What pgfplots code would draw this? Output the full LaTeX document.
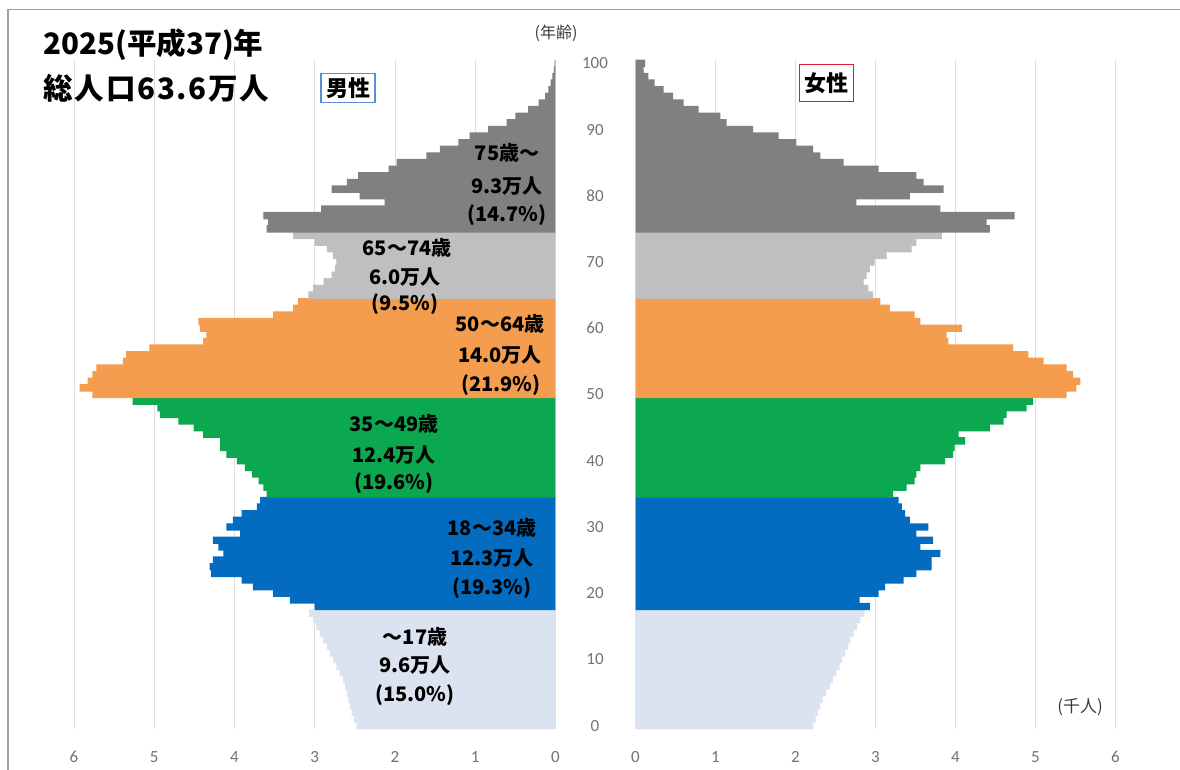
\documentclass[border=0pt]{standalone}
\usepackage{pgfplots}
\pgfplotsset{compat=1.18}
\usepackage{pgfplotstable}
\usepackage{fontspec}
\setmainfont{Noto Sans CJK JP}
\newfontfamily\tickfont{Carlito}

\definecolor{cOld}{RGB}{128,128,128}
\definecolor{cSen}{RGB}{191,191,191}
\definecolor{cOra}{RGB}{244,157,78}
\definecolor{cGre}{RGB}{12,168,80}
\definecolor{cBlu}{RGB}{4,108,192}
\definecolor{cKid}{RGB}{220,227,240}
\definecolor{cGrid}{RGB}{222,222,222}
\definecolor{cTick}{RGB}{115,115,115}
\definecolor{cFrame}{RGB}{160,160,160}

\pgfplotstableread{
age m f
0 2.48 2.22
1 2.51 2.25
2 2.54 2.28
3 2.56 2.31
4 2.58 2.34
5 2.60 2.38
6 2.62 2.43
7 2.65 2.47
8 2.69 2.51
9 2.73 2.55
10 2.77 2.58
11 2.81 2.62
12 2.85 2.66
13 2.90 2.69
14 2.94 2.73
15 2.98 2.77
16 3.02 2.81
17 3.07 2.86
18 3.00 2.93
19 3.31 2.80
20 3.52 3.04
21 3.77 3.12
22 3.91 3.35
23 4.29 3.51
24 4.31 3.70
25 4.27 3.70
26 4.14 3.81
27 4.20 3.56
28 4.27 3.72
29 3.93 3.51
30 4.10 3.66
31 4.02 3.43
32 3.91 3.37
33 3.72 3.33
34 3.68 3.29
35 3.60 3.22
36 3.64 3.39
37 3.70 3.49
38 3.78 3.51
39 3.87 3.56
40 3.97 3.87
41 4.10 3.97
42 4.18 3.99
43 4.18 4.12
44 4.39 4.04
45 4.51 4.43
46 4.70 4.60
47 4.93 4.64
48 4.96 4.89
49 5.27 4.97
50 5.77 5.39
51 5.93 5.51
52 5.83 5.56
53 5.77 5.47
54 5.72 5.39
55 5.39 5.10
56 5.35 4.91
57 5.06 4.72
58 4.39 3.91
59 4.35 3.89
60 4.43 4.08
61 4.45 3.56
62 3.52 3.49
63 3.27 3.18
64 3.21 3.06
65 3.08 2.97
66 3.02 2.91
67 2.89 2.85
68 2.79 2.89
69 2.75 2.93
70 2.73 2.99
71 2.77 3.14
72 2.85 3.45
73 3.00 3.51
74 3.27 3.83
75 3.60 4.43
76 3.58 4.39
77 3.64 4.74
78 2.92 3.81
79 2.13 2.76
80 2.44 3.43
81 2.79 3.85
82 2.60 3.60
83 2.46 3.51
84 2.08 3.04
85 1.98 2.60
86 1.61 2.31
87 1.44 2.22
88 1.21 2.01
89 1.07 1.79
90 0.84 1.47
91 0.61 1.14
92 0.50 1.06
93 0.34 0.79
94 0.21 0.60
95 0.13 0.47
96 0.09 0.35
97 0.06 0.24
98 0.04 0.16
99 0.02 0.10
100 0.01 0.12
}\pop

\pgfplotsset{
  pyr/.style={
    scale only axis, height=669pt,
    ymin=-0.5, ymax=100.5, xmin=0, xmax=6,
    xtick={0,1,2,3,4,5,6},
    xmajorgrids, major grid style={cGrid, line width=0.8pt},
    axis line style={draw=none}, major tick length=0pt,
    /pgf/number format/assume math mode=true,
    xticklabel style={font=\tickfont\fontsize{17}{17}\selectfont, text=cTick, anchor=center, yshift=-28pt},
  },
  grp/.style n args={2}{xbar, bar width=1.12, bar shift=0pt, fill=#1, draw=none,
     restrict y to domain=#2},
}
\newcommand{\anno}{\fontsize{20}{23}\selectfont\bfseries}

\begin{document}
\begin{tikzpicture}[x=1pt,y=1pt]
\path[use as bounding box] (0,0) rectangle (1180,769);
\draw[cFrame, line width=1.3pt] (8,-2) -- (8,759.5) -- (1182,759.5);

% male
\begin{axis}[pyr, at={(74pt,40pt)}, anchor=south west, width=481.5pt, x dir=reverse, ytick=\empty]
\addplot[grp={cKid}{-0.2:17.2}] table[x=m, y=age]{\pop};
\addplot[grp={cBlu}{17.8:34.2}] table[x=m, y=age]{\pop};
\addplot[grp={cGre}{34.8:49.2}] table[x=m, y=age]{\pop};
\addplot[grp={cOra}{49.8:64.2}] table[x=m, y=age]{\pop};
\addplot[grp={cSen}{64.8:74.2}] table[x=m, y=age]{\pop};
\addplot[grp={cOld}{74.8:100.2}] table[x=m, y=age]{\pop};
\end{axis}

% female
\begin{axis}[pyr, at={(635.5pt,40pt)}, anchor=south west, width=480pt,
  ytick={0,10,...,100},
  yticklabel style={font=\tickfont\fontsize{17}{17}\selectfont, text=cTick, anchor=center, xshift=-40.5pt}]
\addplot[grp={cKid}{-0.2:17.2}] table[x=f, y=age]{\pop};
\addplot[grp={cBlu}{17.8:34.2}] table[x=f, y=age]{\pop};
\addplot[grp={cGre}{34.8:49.2}] table[x=f, y=age]{\pop};
\addplot[grp={cOra}{49.8:64.2}] table[x=f, y=age]{\pop};
\addplot[grp={cSen}{64.8:74.2}] table[x=f, y=age]{\pop};
\addplot[grp={cOld}{74.8:100.2}] table[x=f, y=age]{\pop};
\end{axis}

% titles
\node[anchor=west, font=\fontsize{29.5}{32}\selectfont\bfseries] at (40,724) {2025(平成37)年};
\node[anchor=west, font=\fontsize{29.5}{32}\selectfont\bfseries\addfontfeatures{LetterSpace=6}] at (40,681) {総人口63.6万人};
\node[draw={rgb,255:red,91;green,140;blue,213}, line width=1.3pt, fill=white, inner xsep=5pt, inner ysep=4pt,
  font=\fontsize{22}{24}\selectfont\bfseries] at (348,681) {男性};
\node[draw={rgb,255:red,220;green,30;blue,50}, line width=1.6pt, fill=white, inner xsep=5pt, inner ysep=8pt,
  font=\fontsize{22}{24}\selectfont\bfseries] at (826.5,686) {女性};
\node[font=\fontsize{16}{18}\selectfont, text={rgb,255:red,60;green,60;blue,60}] at (556,736) {(年齢)};
\node[font=\fontsize{17}{19}\selectfont, text={rgb,255:red,60;green,60;blue,60}] at (1080,62) {(千人)};

% group annotations
\node[font=\anno] at (507,616) {75歳～};
\node[font=\anno] at (507,583) {9.3万人};
\node[font=\anno] at (507,554) {(14.7\%)};
\node[font=\anno] at (407,521) {65～74歳};
\node[font=\anno] at (405,492) {6.0万人};
\node[font=\anno] at (405,465) {(9.5\%)};
\node[font=\anno] at (500,445) {50～64歳};
\node[font=\anno] at (500,414) {14.0万人};
\node[font=\anno] at (501,384) {(21.9\%)};
\node[font=\anno] at (394,345) {35～49歳};
\node[font=\anno] at (394,314) {12.4万人};
\node[font=\anno] at (394,286) {(19.6\%)};
\node[font=\anno] at (492,241) {18～34歳};
\node[font=\anno] at (492,211) {12.3万人};
\node[font=\anno] at (492,181) {(19.3\%)};
\node[font=\anno] at (415,132) {～17歳};
\node[font=\anno] at (415,104) {9.6万人};
\node[font=\anno] at (415,74) {(15.0\%)};
\end{tikzpicture}
\end{document}
